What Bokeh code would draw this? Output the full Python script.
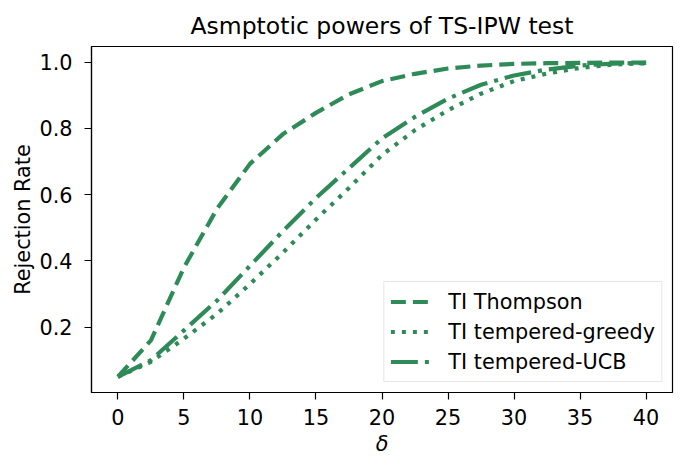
from bokeh.plotting import figure
from bokeh.models import Range1d, FixedTicker, PrintfTickFormatter
from bokeh.embed import file_html
from bokeh.resources import INLINE

delta = [0, 2.5, 5, 7.5, 10, 12.5, 15, 17.5, 20, 22.5, 25, 27.5, 30, 32.5, 35, 37.5, 40]
thompson = [0.05, 0.16, 0.38, 0.557, 0.693, 0.783, 0.847, 0.903, 0.943, 0.965, 0.981, 0.99, 0.995, 0.997, 0.998, 0.999, 0.999]
greedy = [0.05, 0.095, 0.165, 0.24, 0.33, 0.425, 0.525, 0.62, 0.72, 0.795, 0.855, 0.905, 0.943, 0.966, 0.983, 0.993, 0.997]
ucb = [0.05, 0.10, 0.19, 0.28, 0.385, 0.49, 0.59, 0.68, 0.77, 0.835, 0.89, 0.932, 0.96, 0.978, 0.99, 0.996, 0.998]
x_ticks = [0, 5, 10, 15, 20, 25, 30, 35, 40]
y_ticks = [0.2, 0.4, 0.6, 0.8, 1.0]

FONT = "DejaVu Sans"
GREEN = "#2E8B57"

p = figure(output_backend="svg", toolbar_location=None,
           frame_width=581, frame_height=346,
           min_border_left=91, min_border_right=15, min_border_top=46, min_border_bottom=78,
           x_range=Range1d(-2, 42), y_range=Range1d(0.0025, 1.0475),
           title="Asmptotic powers of TS-IPW test")

p.title.text_font = FONT
p.title.text_font_size = "23.5px"
p.title.text_font_style = "normal"
p.title.align = "center"
p.title.text_color = "black"
p.title.standoff = 14

p.line(delta, thompson, color=GREEN, line_width=4.2, line_dash="15 7", legend_label="TI Thompson")
p.line(delta, greedy, color=GREEN, line_width=4.2, line_dash="4 7", legend_label="TI tempered-greedy")
p.line(delta, ucb, color=GREEN, line_width=4.2, line_dash="27 7 4 7", legend_label="TI tempered-UCB")

p.xgrid.visible = False
p.ygrid.visible = False
p.outline_line_color = "black"
p.outline_line_width = 1.2

p.xaxis.ticker = FixedTicker(ticks=x_ticks)
p.yaxis.ticker = FixedTicker(ticks=y_ticks)
p.yaxis.formatter = PrintfTickFormatter(format="%.1f")
p.xaxis.axis_label = "δ"
p.yaxis.axis_label = "Rejection Rate"
for ax in (p.xaxis[0], p.yaxis[0]):
    ax.axis_line_color = "black"
    ax.axis_line_width = 1.2
    ax.major_tick_line_color = "black"
    ax.major_tick_line_width = 1.2
    ax.major_tick_in = 0
    ax.major_tick_out = 7
    ax.minor_tick_line_color = None
    ax.major_label_text_font = FONT
    ax.major_label_text_font_size = "20.8px"
    ax.major_label_text_color = "black"
    ax.axis_label_text_font = FONT
    ax.axis_label_text_font_size = "20.8px"
    ax.axis_label_text_color = "black"
p.xaxis.major_label_standoff = 9
p.yaxis.major_label_standoff = 12
p.xaxis.axis_label_standoff = 4
p.yaxis.axis_label_standoff = 1
p.xaxis.axis_label_text_font_style = "italic"
p.yaxis.axis_label_text_font_style = "normal"

lg = p.legend[0]
lg.location = "bottom_right"
lg.margin = 10
lg.padding = 6
lg.spacing = 3
lg.label_height = 27
lg.glyph_height = 27
lg.glyph_width = 42
lg.label_standoff = 16
lg.label_text_font = FONT
lg.label_text_font_size = "20.8px"
lg.label_text_color = "black"
lg.border_line_color = "#cccccc"
lg.border_line_width = 1.2
lg.background_fill_alpha = 0.8

open("out.html", "w").write(file_html(p, INLINE))
